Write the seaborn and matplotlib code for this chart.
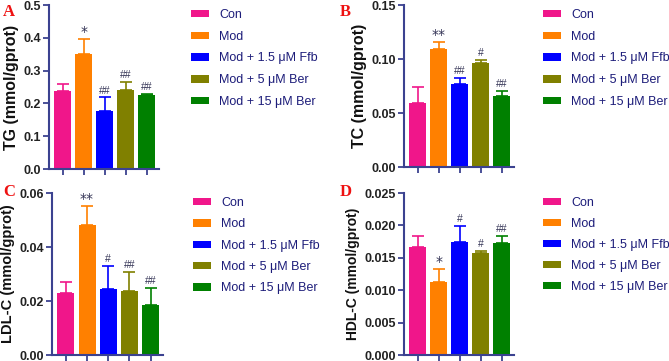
import matplotlib
matplotlib.use("Agg")
import matplotlib.pyplot as plt
import seaborn as sns
import pandas as pd
import numpy as np
from matplotlib.patches import Patch

groups = ["Con", "Mod", "Mod + 1.5 μM Ffb", "Mod + 5 μM Ber", "Mod + 15 μM Ber"]
colors = ["#F0168A", "#FF8000", "#0000FF", "#808000", "#008000"]

tg_mean = [0.239, 0.350, 0.177, 0.240, 0.227]
tg_err = [0.021, 0.047, 0.041, 0.026, 0.002]
tg_sig = ["", "*", "##", "##", "##"]

tc_mean = [0.0595, 0.1090, 0.0765, 0.0963, 0.0660]
tc_err = [0.0143, 0.0072, 0.0060, 0.0030, 0.0048]
tc_sig = ["", "**", "##", "#", "##"]

ldl_mean = [0.0228, 0.0483, 0.0245, 0.0238, 0.0185]
ldl_err = [0.0041, 0.0069, 0.0086, 0.0071, 0.0062]
ldl_sig = ["", "**", "#", "##", "##"]

hdl_mean = [0.01668, 0.01120, 0.01750, 0.01570, 0.01735]
hdl_err = [0.00175, 0.00205, 0.00240, 0.00040, 0.00095]
hdl_sig = ["", "*", "#", "#", "##"]

sns.set_style("ticks")
plt.rcParams['font.family'] = ['Liberation Sans', 'DejaVu Sans']

W, H = 669, 361
fig = plt.figure(figsize=(W / 100, H / 100), dpi=100)

spine_col = "#3b4290"
legend_col = "#1d1d7a"

panels = [
    dict(letter="A", box=(49, 5, 159, 169), mean=tg_mean, err=tg_err, sig=tg_sig,
         ylim=0.5, ticks=[0.0, 0.1, 0.2, 0.3, 0.4, 0.5], fmt="{:.1f}",
         ylabel="TG (mmol/gprot)", lfs=11.5, letter_xy=(3, 12),
         leg=(191, 9), sp=0.78),
    dict(letter="B", box=(404, 5, 514, 167), mean=tc_mean, err=tc_err, sig=tc_sig,
         ylim=0.15, ticks=[0.0, 0.05, 0.10, 0.15], fmt="{:.2f}",
         ylabel="TC (mmol/gprot)", lfs=11.5, letter_xy=(340, 12),
         leg=(543, 9), sp=0.78),
    dict(letter="C", box=(52, 193, 163, 355), mean=ldl_mean, err=ldl_err, sig=ldl_sig,
         ylim=0.06, ticks=[0.0, 0.02, 0.04, 0.06], fmt="{:.2f}",
         ylabel="LDL-C (mmol/gprot)", lfs=10.5, letter_xy=(3, 192),
         leg=(193, 197), sp=0.75),
    dict(letter="D", box=(404, 193, 514, 355), mean=hdl_mean, err=hdl_err, sig=hdl_sig,
         ylim=0.025, ticks=[0.0, 0.005, 0.010, 0.015, 0.020, 0.025], fmt="{:.3f}",
         ylabel="HDL-C (mmol/gprot)", lfs=10, letter_xy=(340, 192),
         leg=(543, 197), sp=0.72),
]

for p in panels:
    x0, y0, x1, y1 = p["box"]
    ax = fig.add_axes([x0 / W, 1 - y1 / H, (x1 - x0) / W, (y1 - y0) / H])
    df = pd.DataFrame({"group": groups, "value": p["mean"]})
    sns.barplot(data=df, x="group", y="value", hue="group", palette=colors,
                order=groups, hue_order=groups, legend=False, width=0.8,
                saturation=1, edgecolor="none", ax=ax)
    xs = np.arange(len(groups))
    for i in range(len(groups)):
        ax.errorbar(xs[i], p["mean"][i], yerr=[[0], [p["err"][i]]], fmt="none",
                    ecolor=colors[i], elinewidth=1.2, capsize=4, capthick=1.2, zorder=3)
        sig = p["sig"][i]
        if sig:
            is_star = sig.startswith("*")
            ax.text(xs[i], p["mean"][i] + p["err"][i] + p["ylim"] * (0.0 if is_star else 0.012),
                    sig, ha="center", va="bottom", fontsize=10 if is_star else 7.5,
                    color="#333355", family=["DejaVu Sans"] if is_star else None)
    ax.set_xlim(-0.65, 4.58)
    ax.set_ylim(0, p["ylim"])
    ax.set_yticks(p["ticks"])
    ax.set_yticklabels([p["fmt"].format(t) for t in p["ticks"]], fontsize=9,
                       fontweight="bold", color="#222222")
    ax.set_xticks(xs)
    ax.set_xticklabels([])
    ax.set_xlabel("")
    ax.set_ylabel(p["ylabel"], fontsize=p["lfs"], fontweight="bold", color="#111111",
                  labelpad=3)
    for s in ["top", "right"]:
        ax.spines[s].set_visible(False)
    for s in ["left", "bottom"]:
        ax.spines[s].set_color(spine_col)
        ax.spines[s].set_linewidth(1.5)
    ax.tick_params(axis="both", colors=spine_col, width=1.3, length=4, pad=2)
    ax.tick_params(axis="y", labelcolor="#222222")
    ax.set_facecolor("none")

    handles = [Patch(facecolor=c, edgecolor="none") for c in colors]
    lx, ly = p["leg"]
    leg = fig.legend(handles, groups, loc="upper left",
                     bbox_to_anchor=(lx / W, 1 - ly / H), frameon=False,
                     fontsize=9, handlelength=1.45, handleheight=0.55,
                     handletextpad=0.8, labelspacing=p["sp"], borderpad=0,
                     borderaxespad=0)
    for t in leg.get_texts():
        t.set_color(legend_col)

    fig.text(p["letter_xy"][0] / W, 1 - p["letter_xy"][1] / H, p["letter"],
             fontsize=12, fontweight="bold", color="#EE1111",
             family=["Liberation Serif", "DejaVu Serif"], ha="left", va="center")

fig.savefig("out.png", dpi=100)
